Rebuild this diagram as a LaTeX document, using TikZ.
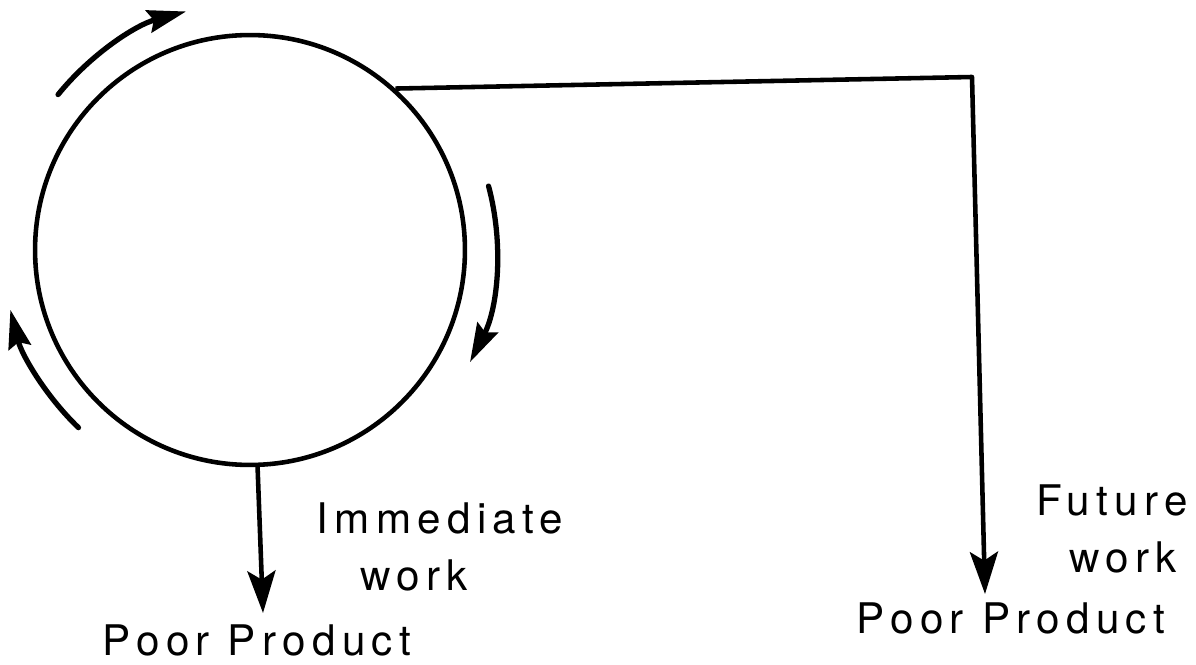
\documentclass[tikz,border=0pt]{standalone}
\usepackage{fontspec}
\newfontfamily\labfont[LetterSpace=15]{TeX Gyre Heros}
\usetikzlibrary{arrows.meta}
\tikzset{
  ln/.style={line width=2.6pt, line join=round},
  bigtip/.style={ln, -{Stealth[length=24pt,width=16pt,inset=5pt]}},
  arctip/.style={line width=3pt, line cap=round, -{Stealth[length=22pt,width=13pt,inset=3pt]}},
  lab/.style={anchor=base, inner sep=0pt, font=\labfont\fontsize{24}{28}\selectfont}
}
\begin{document}
\begin{tikzpicture}[x=0.02cm, y=-0.02cm]
\useasboundingbox (0,0) rectangle (1196,665);
\node[draw, circle, ln, minimum size=8.6cm, inner sep=0pt] (c) at (250,250) {};
% rotation arrows around the circle
\draw[arctip] (c.center) ++ (141:4.94cm) arc[start angle=141, end angle=105, radius=4.94cm];
\draw[arctip] (c.center) ++ (15:4.94cm) arc[start angle=15, end angle=-27, radius=4.94cm];
\draw[arctip] (c.center) ++ (226:4.94cm) arc[start angle=226, end angle=194, radius=4.94cm];
% labels
\node[lab] (imm) at (440,533) {Immediate};
\node[lab] (w1) at (414,590) {work};
\node[lab] (pp1) at (257,655) {Poor Product};
\node[lab] (fut) at (1112,515) {Future};
\node[lab] (w2) at (1123,572) {work};
\node[lab] (pp2) at (1011,633) {Poor Product};
% connectors
\coordinate (corner) at (972,77);
\coordinate (t1) at (263,613);
\coordinate (t2) at (985,594);
\draw[bigtip] (c.272) -- (t1);
\draw[bigtip] (c.48) -- (corner) -- (t2);
\end{tikzpicture}
\end{document}
